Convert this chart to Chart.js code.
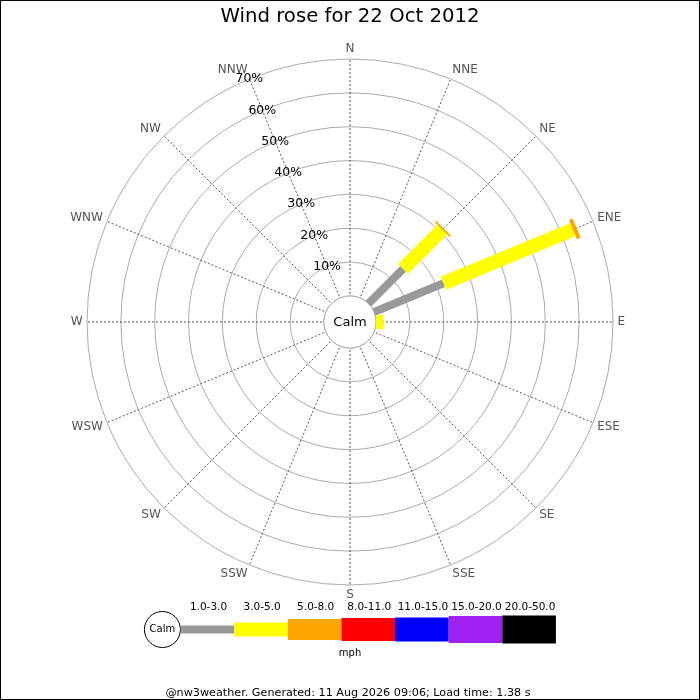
<!DOCTYPE html>
<html>
<head>
<meta charset="utf-8">
<title>Wind rose</title>
<script src="https://cdn.jsdelivr.net/npm/chart.js@4.4.0/dist/chart.umd.min.js"></script>
<style>
  html, body { margin: 0; padding: 0; background: #fff; }
  #rose { display: block; }
</style>
</head>
<body>
<canvas id="rose" width="700" height="700"></canvas>
<script>
// --- Data ---
const directions = ['N','NNE','NE','ENE','E','ESE','SE','SSE','S','SSW','SW','WSW','W','WNW','NW','NNW'];
const speedBins = ['1.0-3.0','3.0-5.0','5.0-8.0','8.0-11.0','11.0-15.0','15.0-20.0','20.0-50.0'];
const ringTicks = [10, 20, 30, 40, 50, 60, 70];

// % of time, per direction (N .. NNW), one array per speed bin (mph)
const freq1to3   = [0, 0, 14.5, 22.2, 0,   0, 0, 0, 0, 0, 0, 0, 0, 0, 0, 0];
const freq3to5   = [0, 0, 16.4, 41.4, 2.2, 0, 0, 0, 0, 0, 0, 0, 0, 0, 0, 0];
const freq5to8   = [0, 0, 0.5,  1.2,  0,   0, 0, 0, 0, 0, 0, 0, 0, 0, 0, 0];
const freq8to11  = [0, 0, 0,    0,    0,   0, 0, 0, 0, 0, 0, 0, 0, 0, 0, 0];
const freq11to15 = [0, 0, 0,    0,    0,   0, 0, 0, 0, 0, 0, 0, 0, 0, 0, 0];
const freq15to20 = [0, 0, 0,    0,    0,   0, 0, 0, 0, 0, 0, 0, 0, 0, 0, 0];
const freq20to50 = [0, 0, 0,    0,    0,   0, 0, 0, 0, 0, 0, 0, 0, 0, 0, 0];
const series = [freq1to3, freq3to5, freq5to8, freq8to11, freq11to15, freq15to20, freq20to50];

// --- Styles ---
const binColors = ['#999999', '#ffff00', '#ffa500', '#ff0000', '#0000ff', '#a020f0', '#000000'];
const binWidths = [8, 14, 21, 23, 24, 27, 28];
const FONT = 'DejaVu Sans';
const RMIN = -7.7; // leaves room for the calm circle in the middle

// bars, calm circle, labels, legend and frame
const windRosePlugin = {
    id: 'windRose',
    beforeDatasetsDraw(chart) {
        const ctx = chart.ctx;
        const s = chart.scales.r;
        const r0 = s.getDistanceFromCenterForValue(0);
        ctx.save();
        ctx.beginPath();
        ctx.arc(s.xCenter, s.yCenter, r0, 0, Math.PI * 2);
        ctx.fillStyle = '#fff';
        ctx.fill();
        ctx.strokeStyle = '#aaaaaa';
        ctx.lineWidth = 1;
        ctx.stroke();
        ctx.restore();
    },
    afterDatasetsDraw(chart) {
        const ctx = chart.ctx;
        const s = chart.scales.r;
        ctx.save();

        // stacked bars along each direction
        directions.forEach((d, i) => {
            let cum = 0;
            chart.data.datasets.forEach((ds, k) => {
                const v = ds.data[i];
                if (!v) return;
                const a = s.getPointPositionForValue(i, cum);
                const b = s.getPointPositionForValue(i, cum + v);
                ctx.strokeStyle = binColors[k];
                ctx.lineWidth = binWidths[k];
                ctx.lineCap = 'butt';
                ctx.beginPath();
                ctx.moveTo(a.x, a.y);
                ctx.lineTo(b.x, b.y);
                ctx.stroke();
                cum += v;
            });
        });

        ctx.textBaseline = 'middle';

        // direction labels
        ctx.font = '12px "' + FONT + '"';
        ctx.fillStyle = '#555555';
        directions.forEach((d, i) => {
            const p = s.getPointPosition(i, s.drawingArea + 4.5);
            const sx = Math.cos(p.angle), sy = Math.sin(p.angle);
            ctx.textAlign = sx > 0.01 ? 'left' : (sx < -0.01 ? 'right' : 'center');
            ctx.fillText(d, p.x, p.y + 5.5 * sy);
        });

        // ring labels along NNW
        ctx.font = '12.5px "' + FONT + '"';
        ctx.fillStyle = '#000';
        ctx.textAlign = 'center';
        ringTicks.forEach(v => {
            const p = s.getPointPositionForValue(directions.length - 1, v);
            ctx.fillText(v + '%', p.x, p.y);
        });

        ctx.font = '13px "' + FONT + '"';
        ctx.fillText('Calm', s.xCenter, s.yCenter + 1);

        // legend
        const ly = 629.5, x0 = 180.7, segW = 53.6;
        ctx.beginPath();
        ctx.arc(162.4, ly, 18, 0, Math.PI * 2);
        ctx.strokeStyle = '#000';
        ctx.lineWidth = 1;
        ctx.stroke();
        ctx.font = '10px "' + FONT + '"';
        ctx.fillText('Calm', 162.4, ly);
        speedBins.forEach((b, k) => {
            const h = binWidths[k];
            ctx.fillStyle = binColors[k];
            ctx.fillRect(x0 + k * segW, ly - h / 2, segW, h);
            ctx.fillStyle = '#000';
            ctx.font = '10.5px "' + FONT + '"';
            ctx.fillText(b, x0 + k * segW + segW / 2 + 1, 607.5);
        });
        ctx.font = '10px "' + FONT + '"';
        ctx.fillText('mph', 350, 653.5);

        ctx.font = '11.2px "' + FONT + '"';
        ctx.fillText('@nw3weather. Generated: 11 Aug 2026 09:06; Load time: 1.38 s', 348, 693);

        // frame
        ctx.strokeStyle = '#000';
        ctx.lineWidth = 1;
        ctx.strokeRect(0.5, 0.5, 699, 699);
        ctx.restore();
    }
};

const ctx = document.getElementById('rose').getContext('2d');
new Chart(ctx, {
    type: 'radar',
    data: {
        labels: directions,
        datasets: speedBins.map((b, k) => ({
            label: b,
            data: series[k],
            borderWidth: 0,
            pointRadius: 0,
            fill: false,
            backgroundColor: 'rgba(0,0,0,0)',
            borderColor: 'rgba(0,0,0,0)'
        }))
    },
    options: {
        responsive: false,
        animation: false,
        devicePixelRatio: 1,
        layout: { padding: { top: 0, bottom: 114.1, left: 0, right: 0 } },
        plugins: {
            legend: { display: false },
            tooltip: { enabled: false },
            title: {
                display: true,
                text: 'Wind rose for 22 Oct 2012',
                color: '#000',
                font: { family: FONT, size: 19.7, weight: 'normal' },
                padding: { top: 5, bottom: 30.3 }
            }
        },
        scales: {
            r: {
                min: RMIN,
                max: 70,
                startAngle: 0,
                afterBuildTicks: sc => { sc.ticks = [0, ...ringTicks].map(v => ({ value: v })); },
                ticks: { display: false },
                grid: { color: '#aaaaaa', lineWidth: 1, circular: true },
                angleLines: { color: '#555555', lineWidth: 1, borderDash: [2, 2] },
                pointLabels: { display: false }
            }
        }
    },
    plugins: [windRosePlugin]
});
</script>
</body>
</html>
